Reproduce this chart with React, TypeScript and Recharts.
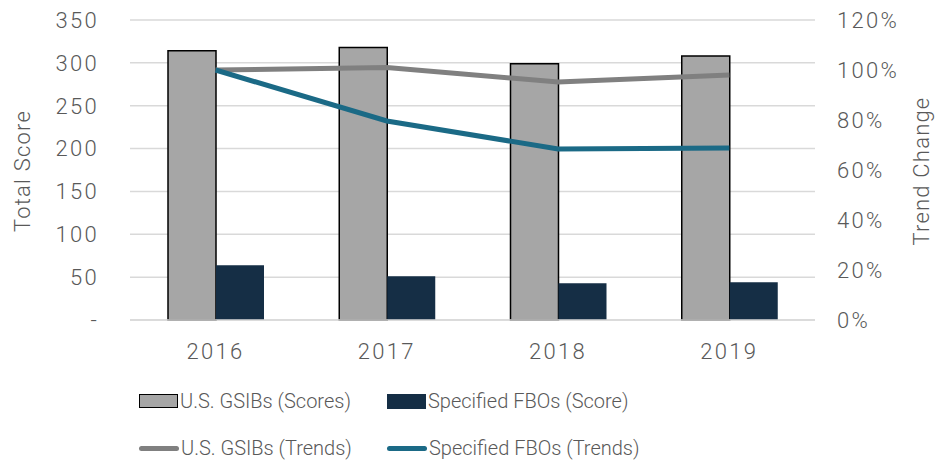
import React from 'react';
import { ComposedChart, Bar, Line, XAxis, YAxis, CartesianGrid } from 'recharts';

const years = ['2016', '2017', '2018', '2019'];
const gsibScores = [314, 318, 299, 308];
const fboScores = [64, 51, 43, 44];
const gsibTrends = [1.0, 1.01, 0.952, 0.98];
const fboTrends = [1.0, 0.796, 0.684, 0.688];
const scoreTicks = [0, 50, 100, 150, 200, 250, 300, 350];
const trendTicks = [0, 0.2, 0.4, 0.6, 0.8, 1.0, 1.2];

const data = years.map((year, i) => ({
  year,
  gsibScore: gsibScores[i],
  fboScore: fboScores[i],
  gsibTrend: gsibTrends[i],
  fboTrend: fboTrends[i],
}));

const FONT = 'Roboto, "Liberation Sans", Arial, sans-serif';
const TEXT = '#595959';
const GRID = '#d9d9d9';
const GRAY_BAR = '#a6a6a6';
const NAVY = '#152e45';
const GRAY_LINE = '#808080';
const TEAL = '#1b6a86';

const tickStyle = { fill: TEXT, fontSize: 22, fontFamily: FONT, fontWeight: 300, letterSpacing: 2.3 };

const legendItems = [
  { label: 'U.S. GSIBs (Scores)', kind: 'box', color: GRAY_BAR, left: 139, top: 392 },
  { label: 'Specified FBOs (Score)', kind: 'fill', color: NAVY, left: 387, top: 392 },
  { label: 'U.S. GSIBs (Trends)', kind: 'line', color: GRAY_LINE, left: 139, top: 439 },
  { label: 'Specified FBOs (Trends)', kind: 'line', color: TEAL, left: 387, top: 439 },
];

const axisTitle = (text: string, x: number) => () => (
  <text
    x={x}
    y={171}
    transform={`rotate(-90 ${x} 171)`}
    textAnchor="middle"
    dominantBaseline="central"
    fill={TEXT}
    fontSize={22}
    fontFamily={FONT}
    fontWeight={300}
    letterSpacing={1.2}
  >
    {text}
  </text>
);

export default function App() {
  return (
    <div style={{ position: 'absolute', left: 0, top: 0, width: 938, height: 465, background: '#fff' }}>
      <ComposedChart
        width={938}
        height={465}
        data={data}
        margin={{ top: 20, right: 0, left: 0, bottom: 0 }}
        barGap={0}
      >
        <CartesianGrid vertical={false} stroke={GRID} strokeWidth={1.5} yAxisId="left" />
        <XAxis
          dataKey="year"
          height={145}
          tick={tickStyle}
          tickLine={false}
          axisLine={{ stroke: GRID, strokeWidth: 1.5 }}
          tickSize={0}
          tickMargin={23}
        />
        <YAxis
          yAxisId="left"
          width={130}
          domain={[0, 350]}
          ticks={scoreTicks}
          tickFormatter={(v: number) => (v === 0 ? '-' : String(v))}
          tick={tickStyle}
          axisLine={false}
          tickLine={false}
          tickSize={0}
          tickMargin={31}
          label={{ content: axisTitle('Total Score', 22) }}
        />
        <YAxis
          yAxisId="right"
          orientation="right"
          width={123}
          domain={[0, 1.2]}
          ticks={trendTicks}
          tickFormatter={(v: number) => `${Math.round(v * 100)}%`}
          tick={tickStyle}
          axisLine={false}
          tickLine={false}
          tickSize={0}
          tickMargin={22}
          label={{ content: axisTitle('Trend Change', 921) }}
        />
        <Bar
          yAxisId="left"
          dataKey="gsibScore"
          fill={GRAY_BAR}
          stroke="#000"
          strokeWidth={1.5}
          barSize={48}
          isAnimationActive={false}
        />
        <Bar
          yAxisId="left"
          dataKey="fboScore"
          fill={NAVY}
          barSize={48}
          isAnimationActive={false}
        />
        <Line
          yAxisId="right"
          dataKey="gsibTrend"
          stroke={GRAY_LINE}
          strokeWidth={5}
          dot={false}
          isAnimationActive={false}
        />
        <Line
          yAxisId="right"
          dataKey="fboTrend"
          stroke={TEAL}
          strokeWidth={5}
          dot={false}
          isAnimationActive={false}
        />
      </ComposedChart>
      {legendItems.map((item) => (
        <div
          key={item.label}
          style={{
            position: 'absolute',
            left: item.left,
            top: item.top,
            height: 18,
            display: 'flex',
            alignItems: 'center',
            fontFamily: FONT,
            fontWeight: 300,
            fontSize: 20,
            color: TEXT,
            whiteSpace: 'nowrap',
          }}
        >
          {item.kind === 'line' ? (
            <span style={{ display: 'inline-block', width: 40, height: 5, borderRadius: 3, background: item.color, marginRight: 2 }} />
          ) : (
            <span
              style={{
                display: 'inline-block',
                width: item.kind === 'box' ? 37 : 39,
                height: item.kind === 'box' ? 12 : 15,
                background: item.color,
                border: item.kind === 'box' ? '1.5px solid #000' : 'none',
                marginRight: 2,
              }}
            />
          )}
          <span>{item.label}</span>
        </div>
      ))}
    </div>
  );
}
